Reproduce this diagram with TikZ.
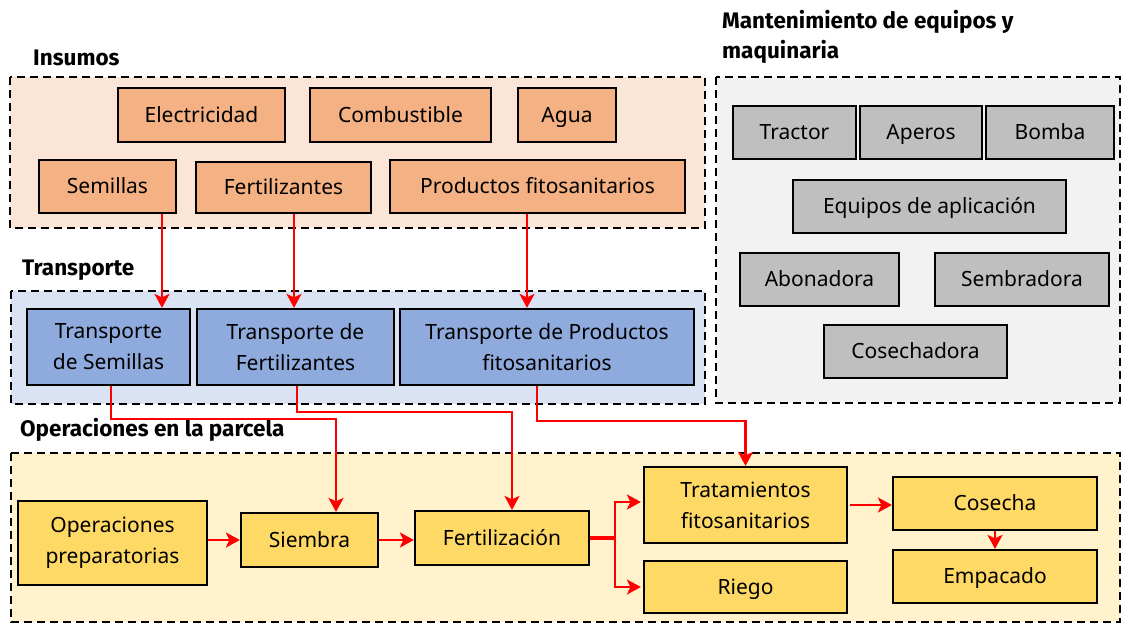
\documentclass[tikz,border=0pt]{standalone}
\usepackage{fontspec}
\setmainfont{Noto Sans}[Ligatures=NoCommon]
\newfontfamily\headfont{Fira Sans}
\usetikzlibrary{arrows.meta,positioning}
\definecolor{InsFill}{RGB}{251,229,214}
\definecolor{InsBox}{RGB}{244,177,131}
\definecolor{TraFill}{RGB}{218,227,243}
\definecolor{TraBox}{RGB}{143,170,220}
\definecolor{ManFill}{RGB}{242,242,242}
\definecolor{ManBox}{RGB}{191,191,191}
\definecolor{OpeFill}{RGB}{255,242,204}
\definecolor{OpeBox}{RGB}{255,217,102}
\definecolor{FlowRed}{RGB}{255,0,0}
\tikzset{
  box/.style={draw=black, line width=2.2pt, inner sep=0pt, align=center,
    font=\fontsize{21}{31}\selectfont},
  oneline/.style={text height=19pt, text depth=5pt},
  insbox/.style={box, oneline, fill=InsBox},
  trabox/.style={box, fill=TraBox},
  manbox/.style={box, oneline, fill=ManBox},
  opebox/.style={box, fill=OpeBox},
  region/.style={dashed, line width=2pt, dash pattern=on 8pt off 5pt},
  heading/.style={anchor=west, inner sep=0pt, align=left,
    font=\fontsize{22.5}{30}\selectfont\headfont\bfseries},
  flow/.style={draw=FlowRed, line width=2.4pt, -{Stealth[length=14pt,width=15pt,inset=3.5pt]}},
}
\begin{document}
\begin{tikzpicture}[x=1pt, y=-1pt]
        \useasboundingbox (0,0) rectangle (1123,624);
        % zones
        \draw[region, fill=InsFill] (10,77) rectangle (705,228);
        \draw[region, fill=TraFill] (11,291) rectangle (705,404);
        \draw[region, fill=ManFill] (716,77) rectangle (1120,403);
        \draw[region, fill=OpeFill] (11,453) rectangle (1120,622);
        \node[heading] (hins) at (33,58) {Insumos};
        \node[heading] (htra) at (22,270) {Transporte};
        \node[heading] (hman) at (722,37) {Mantenimiento de equipos y\\maquinaria};
        \node[heading] (hope) at (20,430) {Operaciones en la parcela};
        % insumos
        \node[insbox, minimum width=167pt, minimum height=54pt] (elec) at (201.5,115) {Electricidad};
        \node[insbox, minimum width=181pt, minimum height=54pt] (comb) at (400.5,115) {Combustible};
        \node[insbox, minimum width=98pt, minimum height=54pt] (agua) at (567,115) {Agua};
        \node[insbox, minimum width=137pt, minimum height=53pt] (sem) at (107.5,186.5) {Semillas};
        \node[insbox, minimum width=175pt, minimum height=51pt] (fert) at (283.5,187.5) {Fertilizantes};
        \node[insbox, minimum width=295pt, minimum height=53pt] (prod) at (537.5,186.5) {Productos fitosanitarios};
        % transporte
        \node[trabox, minimum width=163pt, minimum height=76pt] (tsem) at (108.5,347) {Transporte\\de Semillas};
        \node[trabox, minimum width=197pt, minimum height=76pt] (tfer) at (295.5,347) {Transporte de\\Fertilizantes};
        \node[trabox, minimum width=294pt, minimum height=76pt] (tpro) at (547,347) {Transporte de Productos\\fitosanitarios};
        % mantenimiento
        \node[manbox, minimum width=123pt, minimum height=53pt] (tractor) at (794.5,132.5) {Tractor};
        \node[manbox, minimum width=122pt, minimum height=53pt] (aperos) at (921,132.5) {Aperos};
        \node[manbox, minimum width=128pt, minimum height=53pt] (bomba) at (1050,132.5) {Bomba};
        \node[manbox, minimum width=273pt, minimum height=53pt] (equipos) at (929.5,206.5) {Equipos de aplicación};
        \node[manbox, minimum width=159pt, minimum height=53pt] (abon) at (819.5,279.5) {Abonadora};
        \node[manbox, minimum width=174pt, minimum height=53pt] (sembr) at (1022,279.5) {Sembradora};
        \node[manbox, minimum width=183pt, minimum height=53pt] (cosechad) at (915.5,351.5) {Cosechadora};
        % operaciones
        \node[opebox, minimum width=189pt, minimum height=84pt] (prep) at (112.5,543) {Operaciones\\preparatorias};
        \node[opebox, oneline, minimum width=137pt, minimum height=54pt] (siem) at (309.5,540) {Siembra};
        \node[opebox, oneline, minimum width=174pt, minimum height=54pt] (ferz) at (502,538) {Fertilización};
        \node[opebox, minimum width=203pt, minimum height=76pt] (trat) at (745.5,505) {Tratamientos\\fitosanitarios};
        \node[opebox, oneline, minimum width=203pt, minimum height=52pt] (riego) at (745.5,587) {Riego};
        \node[opebox, oneline, minimum width=204pt, minimum height=53pt] (cose) at (995,503.5) {Cosecha};
        \node[opebox, oneline, minimum width=204pt, minimum height=53pt] (empa) at (995,576.5) {Empacado};
        \coordinate (fork) at ([xshift=25pt]ferz.east);
        % flechas
        \draw[flow] ([xshift=54.5pt]sem.south) -- ([xshift=54.5pt]sem.south |- tsem.north);
        \draw[flow] ([xshift=10.5pt]fert.south) -- ([xshift=10.5pt]fert.south |- tfer.north);
        \draw[flow] ([xshift=-10.5pt]prod.south) -- ([xshift=-10.5pt]prod.south |- tpro.north);
        \draw[flow] ([xshift=2.5pt]tsem.south) -- ++(0,33) -| ([xshift=26.5pt]siem.north);
        \draw[flow] ([xshift=1.5pt]tfer.south) -- ++(0,26) -| ([xshift=10pt]ferz.north);
        \draw[flow] ([xshift=-10pt]tpro.south) -- ++(0,35) -| (trat.north);
        \draw[flow] (prep.east |- siem.west) -- (siem.west);
        \draw[flow] (siem.east) -- (ferz.west |- siem.east);
        \draw[draw=FlowRed, line width=4.5pt] (ferz.east) -- (fork);
        \draw[flow] (fork) |- ([xshift=-2pt,yshift=3pt]trat.west);
        \draw[flow] (fork) |- ([xshift=-2pt]riego.west);
        \draw[flow] ([xshift=2pt]trat.east) -- (cose.west |- trat.east);
        \draw[flow] (cose.south) -- (empa.north);
      \end{tikzpicture}
\end{document}
